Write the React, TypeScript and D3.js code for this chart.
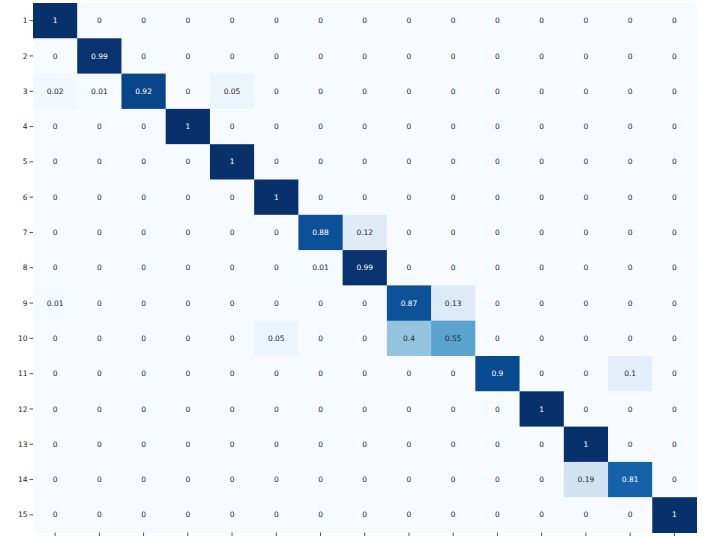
import React from "react";
import * as d3 from "d3";

const labels = ["1","2","3","4","5","6","7","8","9","10","11","12","13","14","15"];
const row1 = [1,0,0,0,0,0,0,0,0,0,0,0,0,0,0];
const row2 = [0,0.99,0,0,0,0,0,0,0,0,0,0,0,0,0];
const row3 = [0.02,0.01,0.92,0,0.05,0,0,0,0,0,0,0,0,0,0];
const row4 = [0,0,0,1,0,0,0,0,0,0,0,0,0,0,0];
const row5 = [0,0,0,0,1,0,0,0,0,0,0,0,0,0,0];
const row6 = [0,0,0,0,0,1,0,0,0,0,0,0,0,0,0];
const row7 = [0,0,0,0,0,0,0.88,0.12,0,0,0,0,0,0,0];
const row8 = [0,0,0,0,0,0,0.01,0.99,0,0,0,0,0,0,0];
const row9 = [0.01,0,0,0,0,0,0,0,0.87,0.13,0,0,0,0,0];
const row10 = [0,0,0,0,0,0.05,0,0,0.4,0.55,0,0,0,0,0];
const row11 = [0,0,0,0,0,0,0,0,0,0,0.9,0,0,0.1,0];
const row12 = [0,0,0,0,0,0,0,0,0,0,0,1,0,0,0];
const row13 = [0,0,0,0,0,0,0,0,0,0,0,0,1,0,0];
const row14 = [0,0,0,0,0,0,0,0,0,0,0,0,0.19,0.81,0];
const row15 = [0,0,0,0,0,0,0,0,0,0,0,0,0,0,1];
const matrix = [row1,row2,row3,row4,row5,row6,row7,row8,row9,row10,row11,row12,row13,row14,row15];

export default function App() {
  const W = 719, H = 537;
  const left = 33, right = 696.5, top = 3, bottom = 532.5;
  const x = d3.scaleBand<string>().domain(labels).range([left, right]);
  const y = d3.scaleBand<string>().domain(labels).range([top, bottom]);
  const color = d3.scaleSequential(d3.interpolateBlues).domain([0, 1]);
  const textColor = (v: number) => {
    const c = d3.rgb(color(v));
    const lum = 0.2126 * c.r / 255 + 0.7152 * c.g / 255 + 0.0722 * c.b / 255;
    return lum > 0.408 ? "#262626" : "#ffffff";
  };
  const font = "DejaVu Sans, sans-serif";
  return (
    <svg width={W} height={H} style={{ position: "absolute", left: 0, top: 0 }}>
      <rect width={W} height={H} fill="#fff" />
      {matrix.map((row, i) =>
        row.map((v, j) => (
          <g key={`${i}-${j}`}>
            <rect x={x(labels[j])} y={y(labels[i])} width={x.bandwidth() + 0.5} height={y.bandwidth() + 0.5} fill={color(v)} />
            <text x={x(labels[j])! + x.bandwidth() / 2} y={y(labels[i])! + y.bandwidth() / 2} dy="0.35em" textAnchor="middle" fontSize={7.5} fontFamily={font} fill={textColor(v)}>
              {String(v)}
            </text>
          </g>
        ))
      )}
      {labels.map((l) => (
        <g key={"y" + l}>
          <line x1={left - 3.5} x2={left} y1={y(l)! + y.bandwidth() / 2} y2={y(l)! + y.bandwidth() / 2} stroke="#262626" strokeWidth={0.8} />
          <text x={left - 5.5} y={y(l)! + y.bandwidth() / 2} dy="0.35em" textAnchor="end" fontSize={7.5} fontFamily={font} fill="#262626">{l}</text>
        </g>
      ))}
      {labels.map((l) => (
        <line key={"x" + l} x1={x(l)! + x.bandwidth() / 2} x2={x(l)! + x.bandwidth() / 2} y1={bottom} y2={bottom + 3.5} stroke="#262626" strokeWidth={0.8} />
      ))}
    </svg>
  );
}
